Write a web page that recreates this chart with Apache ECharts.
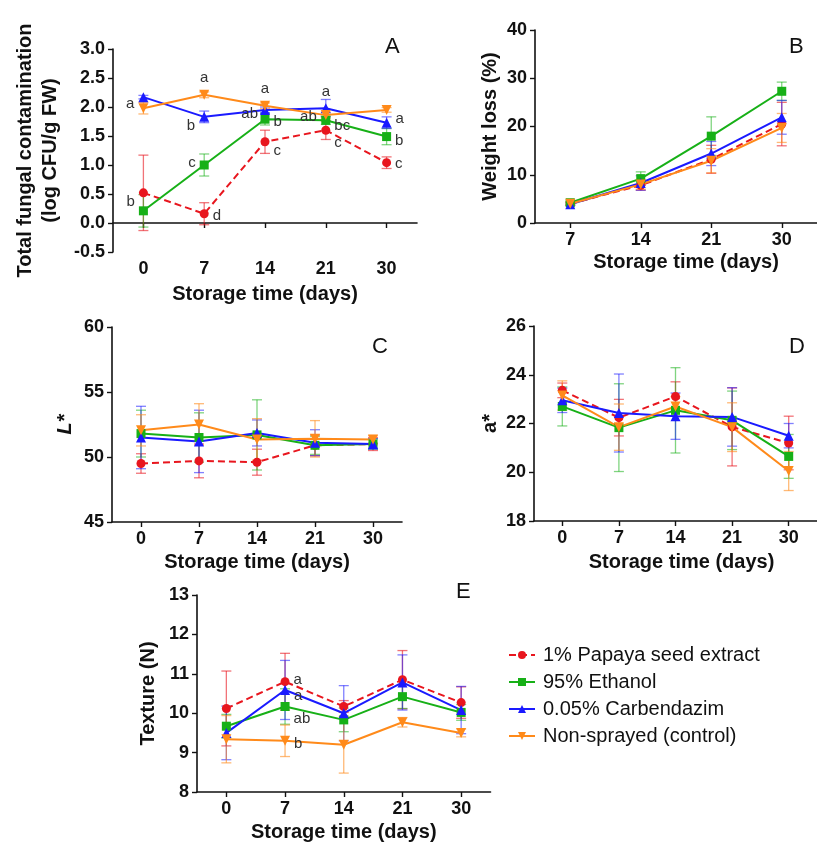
<!DOCTYPE html>
<html><head><meta charset="utf-8">
<script src="https://cdn.jsdelivr.net/npm/echarts@6/dist/echarts.min.js"></script>
<style>html,body{margin:0;padding:0;background:#fff}#c{width:817px;height:843px}</style>
</head><body><div id="c"></div>
<script>
// ---------- categories ----------
const days = ['0', '7', '14', '21', '30'];
const weightDays = ['7', '14', '21', '30'];
const groupNames = ['1% Papaya seed extract', '95% Ethanol', '0.05% Carbendazim', 'Non-sprayed (control)'];

// ---------- Panel A: total fungal contamination ----------
const fungalPapaya = [0.52, 0.16, 1.40, 1.60, 1.04];
const fungalPapayaErr = [0.65, 0.19, 0.20, 0.16, 0.10];
const fungalEthanol = [0.21, 1.00, 1.79, 1.77, 1.49];
const fungalEthanolErr = [0.28, 0.19, 0.10, 0.07, 0.14];
const fungalCarb = [2.17, 1.83, 1.95, 1.98, 1.73];
const fungalCarbErr = [0.03, 0.10, 0.05, 0.15, 0.10];
const fungalControl = [1.98, 2.21, 2.02, 1.86, 1.95];
const fungalControlErr = [0.10, 0.05, 0.05, 0.05, 0.04];
const fungalLettersPapaya = ['', 'd', 'c', 'c', 'c'];
const fungalLettersEthanol = ['b', 'c', 'b', 'bc', 'b'];
const fungalLettersCarb = ['', 'b', 'ab', 'a', 'a'];
const fungalLettersControl = ['a', 'a', 'a', 'ab', ''];

// ---------- Panel B: weight loss ----------
const weightPapaya = [4.0, 7.8, 13.2, 20.5];
const weightPapayaErr = [0.3, 1.0, 2.9, 4.5];
const weightEthanol = [4.2, 9.2, 18.0, 27.3];
const weightEthanolErr = [0.3, 1.4, 4.0, 1.9];
const weightCarb = [3.9, 8.3, 14.4, 21.9];
const weightCarbErr = [0.3, 1.5, 2.5, 3.5];
const weightControl = [4.0, 8.0, 12.9, 19.7];
const weightControlErr = [0.3, 1.0, 2.5, 3.0];

// ---------- Panel C: L* ----------
const lPapaya = [49.5, 49.7, 49.6, 50.9, 51.0];
const lPapayaErr = [0.75, 1.3, 1.0, 0.8, 0.5];
const lEthanol = [51.8, 51.5, 51.7, 50.9, 51.0];
const lEthanolErr = [1.8, 1.9, 2.7, 0.7, 0.4];
const lCarb = [51.5, 51.2, 51.85, 51.1, 51.0];
const lCarbErr = [2.4, 2.4, 1.0, 1.0, 0.4];
const lControl = [52.05, 52.5, 51.35, 51.4, 51.35];
const lControlErr = [1.2, 1.6, 1.6, 1.4, 0.3];

// ---------- Panel D: a* ----------
const aPapaya = [23.36, 22.24, 23.11, 21.86, 21.2];
const aPapayaErr = [0.3, 0.75, 0.6, 1.6, 1.1];
const aEthanol = [22.7, 21.83, 22.54, 22.13, 20.65];
const aEthanolErr = [0.8, 1.8, 1.75, 1.2, 0.9];
const aCarb = [22.95, 22.43, 22.3, 22.27, 21.5];
const aCarbErr = [0.5, 1.6, 0.95, 1.2, 0.5];
const aControl = [23.15, 21.85, 22.7, 21.85, 20.05];
const aControlErr = [0.6, 0.95, 0.4, 1.0, 0.8];

// ---------- Panel E: texture ----------
const texPapaya = [10.12, 10.8, 10.17, 10.85, 10.27];
const texPapayaErr = [0.95, 0.72, 0.15, 0.74, 0.4];
const texEthanol = [9.67, 10.17, 9.83, 10.42, 10.02];
const texEthanolErr = [0.3, 0.45, 0.3, 0.3, 0.2];
const texCarb = [9.5, 10.59, 10.0, 10.78, 10.08];
const texCarbErr = [0.68, 0.75, 0.7, 0.7, 0.6];
const texControl = [9.34, 9.3, 9.2, 9.77, 9.5];
const texControlErr = [0.6, 0.4, 0.72, 0.12, 0.1];
const texLettersPapaya = ['', 'a', '', '', ''];
const texLettersEthanol = ['', 'ab', '', '', ''];
const texLettersCarb = ['', 'a', '', '', ''];
const texLettersControl = ['', 'b', '', '', ''];

// ---------- styles ----------
const FONT = '"Liberation Sans", Arial, Helvetica, sans-serif';
const COLORS = ['#e8161e', '#17b017', '#1a1aff', '#ff8a1a'];
const ERR_COLORS = ['rgba(232,22,30,0.6)', 'rgba(23,176,23,0.55)', 'rgba(26,26,255,0.55)', 'rgba(255,138,26,0.6)'];
const SYMBOLS = ['circle', 'rect', 'triangle', 'path://M0,0L10,0L5,9Z'];
// letter placement: [position, dx, dy]
const placeA = [
  [null, ['right', 0, 2], ['right', 0, 9], ['right', 0, 13], ['right', 0, 1]],
  [['left', 0, -9], ['left', 0, -2], ['right', 0, 3], ['right', 0, 6], ['right', 0, 4]],
  [null, ['left', 0, 9], ['left', 2, 4], ['top', 0, 0], ['right', 0, -4]],
  [['left', 0, -4], ['top', 0, 0], ['top', 0, 0], ['left', 0, 2], null]
];
const placeE = [
  [null, ['right', 0, -2], null, null, null],
  [null, ['right', 0, 12], null, null, null],
  [null, ['right', 0, 6], null, null, null],
  [null, ['right', 0, 3], null, null, null]
];

const panels = [
  { cats: days, vals: [fungalPapaya, fungalEthanol, fungalCarb, fungalControl],
    errs: [fungalPapayaErr, fungalEthanolErr, fungalCarbErr, fungalControlErr],
    letters: [fungalLettersPapaya, fungalLettersEthanol, fungalLettersCarb, fungalLettersControl], place: placeA,
    grid: { left: 113, top: 49, width: 304, height: 203 }, y: { min: -0.5, max: 3, interval: 0.5, dec: 1 },
    yName: 'Total fungal contamination\n(log CFU/g FW)', yGap: 50, xGap: 32, xShift: 0, onZero: true },
  { cats: weightDays, vals: [weightPapaya, weightEthanol, weightCarb, weightControl],
    errs: [weightPapayaErr, weightEthanolErr, weightCarbErr, weightControlErr],
    grid: { left: 535, top: 30, width: 288, height: 193 }, y: { min: 0, max: 40, interval: 10, dec: 0 },
    yName: 'Weight loss (%)', yGap: 35, xGap: 29, xShift: 20, onZero: false },
  { cats: days, vals: [lPapaya, lEthanol, lCarb, lControl],
    errs: [lPapayaErr, lEthanolErr, lCarbErr, lControlErr],
    grid: { left: 112, top: 327, width: 290, height: 195 }, y: { min: 45, max: 60, interval: 5, dec: 0 },
    yName: 'L*', yItalic: true, yGap: 37, xGap: 30, xShift: 0, onZero: false },
  { cats: days, vals: [aPapaya, aEthanol, aCarb, aControl],
    errs: [aPapayaErr, aEthanolErr, aCarbErr, aControlErr],
    grid: { left: 534, top: 326, width: 292.5, height: 195 }, y: { min: 18, max: 26, interval: 2, dec: 0 },
    yName: 'a*', yGap: 34, xGap: 31, xShift: 12, onZero: false },
  { cats: days, vals: [texPapaya, texEthanol, texCarb, texControl],
    errs: [texPapayaErr, texEthanolErr, texCarbErr, texControlErr],
    letters: [texLettersPapaya, texLettersEthanol, texLettersCarb, texLettersControl], place: placeE,
    grid: { left: 197, top: 595, width: 293.5, height: 197 }, y: { min: 8, max: 13, interval: 1, dec: 0 },
    yName: 'Texture (N)', yGap: 39, xGap: 30, xShift: 0, onZero: false }
];

const grids = [], xAxes = [], yAxes = [], lineSeries = [], errSeries = [];
const axisLine = { show: true, lineStyle: { color: '#111', width: 1.6 } };
const axisTick = { show: true, length: 5, lineStyle: { color: '#111', width: 1.4 } };
const tickLabel = { color: '#111', fontFamily: FONT, fontWeight: 'bold', fontSize: 18 };
const nameStyle = { color: '#111', fontFamily: FONT, fontWeight: 'bold', fontSize: 20 };

function errorBar(params, api) {
  const i = api.value(0);
  const lo = api.coord([i, api.value(1)]);
  const hi = api.coord([i, api.value(2)]);
  const hw = 5;
  const style = { stroke: api.visual('color'), lineWidth: 1.3, fill: null };
  return { type: 'group', children: [
    { type: 'line', shape: { x1: lo[0], y1: lo[1], x2: hi[0], y2: hi[1] }, style },
    { type: 'line', shape: { x1: lo[0] - hw, y1: lo[1], x2: lo[0] + hw, y2: lo[1] }, style },
    { type: 'line', shape: { x1: hi[0] - hw, y1: hi[1], x2: hi[0] + hw, y2: hi[1] }, style }
  ] };
}

panels.forEach((p, k) => {
  grids.push(Object.assign({ containLabel: false }, p.grid));
  xAxes.push({
    type: 'category', gridIndex: k, data: p.cats, boundaryGap: true,
    axisLine: Object.assign({ onZero: p.onZero }, axisLine),
    axisTick: Object.assign({ alignWithLabel: true }, axisTick),
    axisLabel: Object.assign({ margin: 8 }, tickLabel),
    splitLine: { show: false },
    name: 'Storage time (days)', nameLocation: 'middle', nameGap: p.xGap,
    nameTextStyle: Object.assign({}, nameStyle, { padding: [0, 0, 0, p.xShift] })
  });
  yAxes.push({
    type: 'value', gridIndex: k, min: p.y.min, max: p.y.max, interval: p.y.interval,
    axisLine, axisTick, splitLine: { show: false },
    axisLabel: Object.assign({ margin: 8, formatter: v => v.toFixed(p.y.dec) }, tickLabel),
    name: p.yName, nameLocation: 'middle', nameRotate: 90, nameGap: p.yGap,
    nameTextStyle: Object.assign({}, nameStyle, { lineHeight: p.yName.indexOf('\n') >= 0 ? 25 : 20,
      fontStyle: p.yItalic ? 'italic' : 'normal' })
  });
  for (let g = 0; g < 4; g++) {
    const vals = p.vals[g];
    const data = vals.map((v, i) => {
      const letter = p.letters ? p.letters[g][i] : '';
      const pl = p.place ? p.place[g][i] : null;
      if (!letter || !pl) return v;
      return { value: v, label: { show: true, formatter: letter, position: pl[0], offset: [pl[1], pl[2]],
        distance: 4, color: '#333', fontFamily: FONT, fontSize: 15 } };
    });
    lineSeries.push({
      type: 'line', name: groupNames[g], xAxisIndex: k, yAxisIndex: k, data,
      symbol: SYMBOLS[g], symbolSize: g >= 2 ? 10 : 9,
      itemStyle: { color: COLORS[g] },
      lineStyle: { color: COLORS[g], width: 2, type: g === 0 ? [7, 4] : 'solid' },
      z: 3, animation: false, emphasis: { disabled: true }
    });
    errSeries.push({
      type: 'custom', name: groupNames[g], xAxisIndex: k, yAxisIndex: k,
      data: vals.map((v, i) => [i, v - p.errs[g][i], v + p.errs[g][i]]),
      encode: { x: 0, y: [1, 2] },
      renderItem: errorBar, itemStyle: { color: ERR_COLORS[g] }, z: 2, animation: false, silent: true
    });
  }
});

const letterStyle = { fill: '#111', fontFamily: FONT, fontSize: 22 };
const chart = echarts.init(document.getElementById('c'), null, { renderer: 'canvas' });
chart.setOption({
  backgroundColor: '#fff',
  animation: false,
  grid: grids, xAxis: xAxes, yAxis: yAxes,
  legend: {
    data: groupNames, orient: 'vertical', left: 503, top: 640,
    itemWidth: 26, itemHeight: 10, itemGap: 7,
    textStyle: { color: '#111', fontFamily: FONT, fontSize: 20, lineHeight: 20, padding: [0, 0, 0, 3] }
  },
  graphic: [
    { type: 'text', left: 385, top: 36, style: Object.assign({ text: 'A' }, letterStyle) },
    { type: 'text', left: 789, top: 36, style: Object.assign({ text: 'B' }, letterStyle) },
    { type: 'text', left: 372, top: 336, style: Object.assign({ text: 'C' }, letterStyle) },
    { type: 'text', left: 789, top: 336, style: Object.assign({ text: 'D' }, letterStyle) },
    { type: 'text', left: 456, top: 581, style: Object.assign({ text: 'E' }, letterStyle) }
  ],
  series: lineSeries.concat(errSeries)
});
</script></body></html>
